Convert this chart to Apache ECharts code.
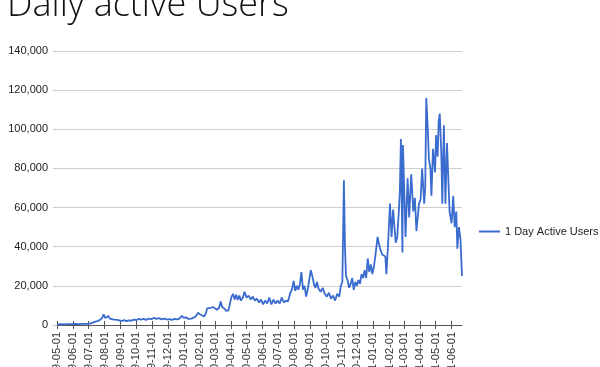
<!DOCTYPE html>
<html>
<head>
<meta charset="utf-8">
<script src="https://cdn.jsdelivr.net/npm/echarts@6/dist/echarts.min.js"></script>
<style>html,body{margin:0;padding:0;background:#fff}#c{width:600px;height:367px}</style>
</head>
<body>
<div id="c"></div>
<script>
var titleText = 'Daily active Users';
var seriesName = '1 Day Active Users';
var monthTicks = ['2019-05-01','2019-06-01','2019-07-01','2019-08-01','2019-09-01','2019-10-01','2019-11-01','2019-12-01',
  '2020-01-01','2020-02-01','2020-03-01','2020-04-01','2020-05-01','2020-06-01','2020-07-01','2020-08-01','2020-09-01',
  '2020-10-01','2020-11-01','2020-12-01','2021-01-01','2021-02-01','2021-03-01','2021-04-01','2021-05-01','2021-06-01'];
var yTicks = [0, 20000, 40000, 60000, 80000, 100000, 120000, 140000];
var dates = [
'2019-05-01','2019-05-08','2019-05-15','2019-05-22','2019-05-29','2019-06-05','2019-06-12','2019-06-19','2019-06-26',
'2019-07-03','2019-07-08','2019-07-13','2019-07-18','2019-07-23','2019-07-27','2019-07-30','2019-08-02','2019-08-05',
'2019-08-08','2019-08-11','2019-08-15','2019-08-20','2019-08-25','2019-08-30','2019-09-04','2019-09-08','2019-09-12',
'2019-09-17','2019-09-22','2019-09-27','2019-10-02','2019-10-06','2019-10-10','2019-10-15','2019-10-20','2019-10-25',
'2019-10-30','2019-11-04','2019-11-09','2019-11-14','2019-11-19','2019-11-24','2019-11-29','2019-12-04','2019-12-09',
'2019-12-14','2019-12-19','2019-12-24','2019-12-28','2020-01-01','2020-01-05','2020-01-10','2020-01-15','2020-01-20',
'2020-01-24','2020-01-28','2020-02-01','2020-02-05','2020-02-09','2020-02-12','2020-02-15','2020-02-18','2020-02-22',
'2020-02-26','2020-03-01','2020-03-05','2020-03-09','2020-03-12','2020-03-15','2020-03-19','2020-03-23','2020-03-27',
'2020-03-30','2020-04-02','2020-04-05','2020-04-08','2020-04-11','2020-04-14','2020-04-17','2020-04-20','2020-04-24',
'2020-04-27','2020-05-01','2020-05-05','2020-05-09','2020-05-13','2020-05-17','2020-05-21','2020-05-25','2020-05-29',
'2020-06-02','2020-06-06','2020-06-10','2020-06-14','2020-06-18','2020-06-22','2020-06-26','2020-06-30','2020-07-04',
'2020-07-08','2020-07-12','2020-07-16','2020-07-20','2020-07-24','2020-07-28','2020-07-31','2020-08-03','2020-08-06',
'2020-08-09','2020-08-12','2020-08-15','2020-08-18','2020-08-21','2020-08-24','2020-08-27','2020-08-30','2020-09-02',
'2020-09-05','2020-09-08','2020-09-11','2020-09-14','2020-09-17','2020-09-21','2020-09-25','2020-09-29','2020-10-03',
'2020-10-07','2020-10-11','2020-10-15','2020-10-19','2020-10-23','2020-10-27','2020-10-30','2020-11-02','2020-11-05',
'2020-11-07','2020-11-09','2020-11-12','2020-11-15','2020-11-18','2020-11-21','2020-11-24','2020-11-27','2020-11-30',
'2020-12-03','2020-12-06','2020-12-09','2020-12-12','2020-12-15','2020-12-18','2020-12-21','2020-12-24','2020-12-27',
'2020-12-30','2021-01-02','2021-01-05','2021-01-09','2021-01-12','2021-01-15','2021-01-18','2021-01-21','2021-01-24',
'2021-01-26','2021-01-29','2021-02-02','2021-02-05','2021-02-08','2021-02-13','2021-02-16','2021-02-19','2021-02-21',
'2021-02-23','2021-02-26','2021-02-27','2021-03-04','2021-03-08','2021-03-11','2021-03-15','2021-03-19','2021-03-22',
'2021-03-25','2021-03-30','2021-04-02','2021-04-05','2021-04-09','2021-04-11','2021-04-13','2021-04-16','2021-04-18',
'2021-04-21','2021-04-23','2021-04-26','2021-04-30','2021-05-02','2021-05-05','2021-05-07','2021-05-09','2021-05-12',
'2021-05-14','2021-05-17','2021-05-20','2021-05-23','2021-05-28','2021-06-01','2021-06-04','2021-06-07','2021-06-10',
'2021-06-12','2021-06-15','2021-06-18','2021-06-21'
];
var users = [
300,400,350,450,400,500,450,550,600,
700,1100,1600,2000,2600,3500,5400,3600,3200,
4600,3300,3000,2700,2600,2300,2100,2500,2000,
2400,2200,2800,2500,3200,2700,3100,2600,3300,
3000,3600,3100,3500,2900,3300,2800,3000,2600,
3100,2900,3400,4700,3600,3900,3100,3300,3800,
4400,6200,5500,5000,4300,5600,8500,9500,8800,
9200,8600,7800,8800,12000,9200,8400,7200,7500,
7000,14500,15800,13000,15500,12800,15000,12500,14000,
17000,14000,15000,13000,14500,12500,13500,11500,13000,
10500,12500,11000,14000,10500,13000,11000,12500,11000,
14000,11500,12500,12000,16000,18500,22500,17500,20000,
18000,21000,27000,18000,20000,14500,18000,23000,28000,
25000,21000,19000,22000,18500,17000,19000,16000,14500,
16500,13500,15000,12500,16000,14500,20000,22000,74000,
40000,25000,23000,19000,21000,24000,18000,22000,20000,
23000,21000,26000,24000,28000,24000,34000,27000,31000,
26000,30000,36000,45000,41000,38000,36000,37000,35000,
26000,40000,62000,45000,59000,42000,45000,58000,68000,
95000,37000,92000,45000,75000,55000,77000,58000,65000,
48000,62000,64000,80000,62000,70000,116000,100000,85000,
80000,66000,90000,78000,97000,86000,104000,108000,88000,
62000,102000,62000,93000,58000,52000,66000,50000,58000,
39000,50000,44000,25000
];

function ts(s) { var p = s.split('-'); return Date.UTC(+p[0], +p[1] - 1, +p[2]); }
var seriesData = dates.map(function (d, i) { return [ts(d), users[i]]; });
var tickVals = monthTicks.map(ts);
function fmtDate(v) {
  var d = new Date(v);
  var m = d.getUTCMonth() + 1, dd = d.getUTCDate();
  return d.getUTCFullYear() + '-' + (m < 10 ? '0' : '') + m + '-' + (dd < 10 ? '0' : '') + dd;
}

var chart = echarts.init(document.getElementById('c'), null, { renderer: 'canvas' });
var xMin = ts(monthTicks[0]), xMax = ts(dates[dates.length - 1]);
chart.setOption({
  animation: false,
  backgroundColor: '#fff',
  title: {
    text: titleText,
    left: 2,
    top: -17,
    textStyle: { fontFamily: 'Open Sans', fontWeight: 300, fontSize: 36, color: '#111' }
  },
  legend: {
    data: [seriesName],
    orient: 'vertical',
    left: 474,
    top: 221,
    icon: 'rect',
    itemWidth: 21,
    itemHeight: 2,
    itemGap: 2,
    textStyle: { fontFamily: 'Liberation Sans', fontSize: 11, color: '#222' }
  },
  grid: { left: 57, right: 138, top: 51, bottom: 42, containLabel: false, outerBoundsMode: 'none' },
  xAxis: [{
    type: 'value',
    min: xMin,
    max: xMax,
    splitLine: { show: false },
    axisLine: { show: true, lineStyle: { color: '#555', width: 1 } },
    axisTick: { show: true, length: 4, customValues: tickVals, lineStyle: { color: '#555' } },
    axisLabel: {
      show: true, customValues: tickVals, rotate: 90, margin: 7,
      fontFamily: 'Liberation Sans', fontSize: 11, color: '#333',
      formatter: function (v) { return fmtDate(v); }
    }
  }, {
    type: 'value',
    min: xMin,
    max: xMax,
    position: 'bottom',
    splitLine: { show: false },
    axisLine: { show: false },
    axisTick: { show: true, inside: true, length: 4, customValues: tickVals, lineStyle: { color: '#555' } },
    axisLabel: { show: false }
  }],
  yAxis: {
    type: 'value',
    min: yTicks[0],
    max: yTicks[yTicks.length - 1],
    interval: yTicks[1] - yTicks[0],
    axisLine: { show: false },
    axisTick: { show: true, length: 4, lineStyle: { color: '#ccc' } },
    splitLine: { lineStyle: { color: '#cfcfcf', width: 1 } },
    axisLabel: {
      margin: 9, fontFamily: 'Liberation Sans', fontSize: 11, color: '#222',
      formatter: function (v) { return v.toLocaleString('en-US'); }
    }
  },
  series: [{
    name: seriesName,
    type: 'line',
    xAxisIndex: 0,
    data: seriesData,
    showSymbol: false,
    symbol: 'none',
    lineStyle: { color: '#3a6ccf', width: 1.8 },
    itemStyle: { color: '#3a6ccf' }
  }]
});
</script>
</body>
</html>
